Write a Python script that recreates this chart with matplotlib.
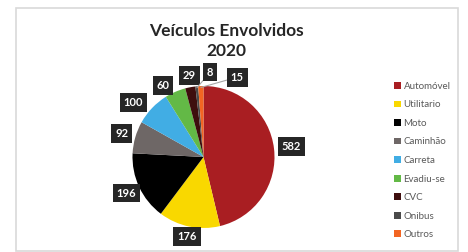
import math

import matplotlib
matplotlib.use("Agg")
import matplotlib.pyplot as plt
from matplotlib.patches import Rectangle

# data
categories = ["Automóvel", "Utilitario", "Moto", "Caminhão", "Carreta",
              "Evadiu-se", "CVC", "Onibus", "Outros"]
values = [582, 176, 196, 92, 100, 60, 29, 8, 15]
colors = ["#A91E22", "#F9D800", "#000000", "#6E6766", "#41ADE4",
          "#63B946", "#3E0E0E", "#4A4A4A", "#F26522"]
title = "Veículos Envolvidos\n2020"

# label placement: (radius, angle shift in degrees) per slice
label_layout = [(1.25, 0), (1.14, 0), (1.2, 0), (1.2, 0), (1.25, 6),
                (1.16, 6), (1.17, -1), (1.2, -10), (1.22, -25)]
with_leader = [False, False, False, False, False, False, False, True, True]

plt.rcParams['font.family'] = ['Lato', 'DejaVu Sans']

W, H = 468, 252
fig = plt.figure(figsize=(W / 100, H / 100), dpi=100)

# outer frame
fig.patches.append(Rectangle((16 / W, 1 - 251 / H), 442 / W, 243 / H,
                             transform=fig.transFigure, fill=False,
                             edgecolor="#D9D9D9", linewidth=1.2))

cx, cy, r = 203.5, 157, 71
ax = fig.add_axes([(cx - r) / W, (H - cy - r) / H, 2 * r / W, 2 * r / H])
wedges, _ = ax.pie(values, colors=colors, startangle=90, counterclock=False,
                   radius=1, wedgeprops=dict(linewidth=0))
ax.set_xlim(-1, 1)
ax.set_ylim(-1, 1)
ax.set_aspect("equal")
ax.axis("off")

box = dict(boxstyle="square,pad=0.35", fc="#262626", ec="none")
for w, v, (rad, shift), lead in zip(wedges, values, label_layout, with_leader):
    mid = (w.theta1 + w.theta2) / 2
    a = math.radians(mid + shift)
    tx, ty = rad * math.cos(a), rad * math.sin(a)
    am = math.radians(mid)
    ex, ey = 0.98 * math.cos(am), 0.98 * math.sin(am)
    if lead:
        ax.annotate(str(v), xy=(ex, ey), xytext=(tx, ty), ha="center", va="center",
                    fontsize=8, fontweight="bold", color="white", bbox=box,
                    arrowprops=dict(arrowstyle="-", color="#A6A6A6", lw=0.8,
                                    shrinkA=0, shrinkB=0),
                    annotation_clip=False)
    else:
        ax.text(tx, ty, str(v), ha="center", va="center", fontsize=8,
                fontweight="bold", color="white", clip_on=False, bbox=box)

fig.text(226 / W, 1 - 41 / H, title, ha="center", va="center", fontsize=12.5,
         fontweight="bold", color="#262626", linespacing=1.3)

# legend
handles = [Rectangle((0, 0), 1, 1, fc=c, ec="none") for c in colors]
leg = fig.legend(handles, categories, loc="upper left",
                 bbox_to_anchor=(390 / W, 1 - 78 / H), frameon=False,
                 fontsize=7, handlelength=0.7, handleheight=0.7,
                 handletextpad=0.3, labelspacing=0.98, borderaxespad=0)
for t in leg.get_texts():
    t.set_color("#595959")

fig.savefig("out.png", dpi=100)
